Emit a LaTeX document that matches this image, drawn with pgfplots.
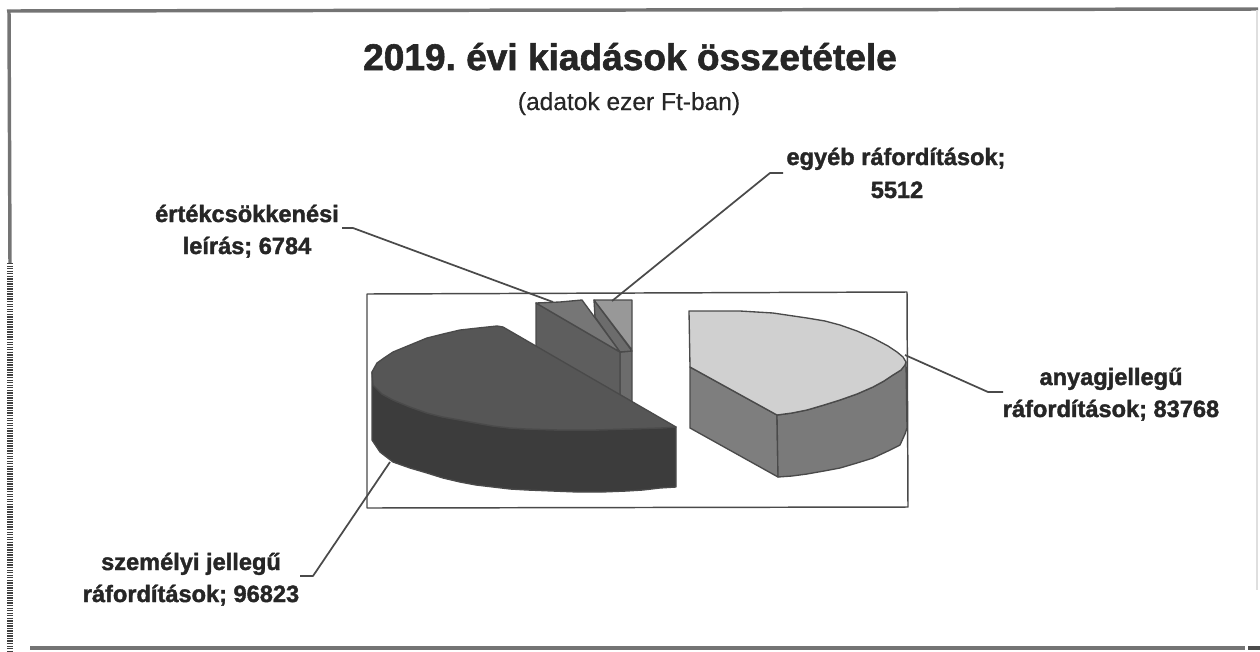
\documentclass[border=0pt]{standalone}
\usepackage{fontspec}
\setmainfont[BoldFeatures={FakeBold=1.6}]{Liberation Sans}
\frenchspacing
\usepackage{pgfplots}
\pgfplotsset{compat=1.18}

\definecolor{outl}{HTML}{4A4A4A}
\definecolor{framec}{HTML}{747474}
\definecolor{txt}{HTML}{262626}
\definecolor{egyebtop}{HTML}{989898}
\definecolor{egyebside}{HTML}{6C6C6C}
\definecolor{ertektop}{HTML}{767676}
\definecolor{ertekside}{HTML}{5E5E5E}
\definecolor{szemtop}{HTML}{565656}
\definecolor{szemside}{HTML}{3C3C3C}
\definecolor{anyagtop}{HTML}{D0D0D0}
\definecolor{anyagleft}{HTML}{7E7E7E}
\definecolor{anyagright}{HTML}{7A7A7A}

\pgfplotsset{
  face/.style={draw=outl, line width=1pt, line join=round, fill=#1, mark=none},
  lead/.style={draw=#1, line width=1.3pt, line join=round, mark=none},
}
\tikzset{
  lab/.style={anchor=base, text=txt, font=\fontsize{17.7}{20}\selectfont\bfseries, inner sep=0pt},
}

\begin{document}
\begin{tikzpicture}
\begin{axis}[
  scale only axis, width=945pt, height=488.25pt,
  xmin=0, xmax=1260, ymin=0, ymax=651, y dir=reverse,
  hide axis, clip=false,
]
% outer frame
\addplot[lead=framec, line width=2.6pt] coordinates {(7,11) (1258,9)};
\addplot[lead=framec, line width=2.6pt] coordinates {(9,10) (10,263)};
\addplot[lead=framec, line width=2.4pt] coordinates {(30,648) (1245,648)};
\addplot[lead=gray!25, line width=0.8pt] coordinates {(1257,10) (1257,590)};
\addplot[draw=black!75, line width=4pt, dash pattern=on 1pt off 0.9pt, mark=none] coordinates {(10,263) (10,651)};
\addplot[lead=black!70, line width=2.5pt] coordinates {(1248,648) (1260,648)};

% plot area box
\addplot[lead=outl, line width=1.1pt] coordinates {(367,294) (907,292) (908,507) (367,508)} --cycle;

% egyeb raforditasok
\addplot[face=egyebside] coordinates {(620,352) (632,351) (632,402) (620,395)} --cycle;
\addplot[face=egyebside] coordinates {(594,300) (595,317) (620,352) (632,351)} --cycle;
\addplot[face=egyebtop] coordinates {(594,300) (632,300) (632,350)} --cycle;

% ertekcsokkenesi leiras
\addplot[face=ertekside] coordinates {(536,303) (620,352) (620,397) (536,348)} --cycle;
\addplot[face=ertektop] coordinates {(536,303) (560,302) (582,300) (620,352)} --cycle;

% szemelyi jellegu raforditasok
\addplot[face=szemside] coordinates {
  (372,372) (373,385) (382,394) (393,400) (410,407) (427,413) (443,417) (460,420) (476,423)
  (493,426) (510,428) (527,429) (560,430) (593,430) (627,429) (660,428) (676,427)
  (676,487) (660,488) (643,490) (627,491) (602,492) (577,492) (552,491) (527,490) (510,489)
  (493,487) (476,485) (460,482) (443,478) (427,473) (410,468) (393,462) (380,452) (372,440)
} --cycle;
\addplot[face=szemtop] coordinates {
  (503,327) (497,326) (478,328) (460,330) (443,334) (427,338) (410,345) (393,352) (384,358)
  (377,363) (372,372) (373,385) (382,394) (393,400) (410,407) (427,413) (443,417) (460,420)
  (476,423) (493,426) (510,428) (527,429) (560,430) (593,430) (627,429) (660,428) (676,427)
} --cycle;

% anyagjellegu raforditasok
\addplot[face=anyagleft] coordinates {(690,367) (777,415) (778,477) (690,428)} --cycle;
\addplot[face=anyagright] coordinates {
  (777,415) (792,413) (807,410) (824,405) (840,400) (857,394) (873,387) (884,381) (893,375)
  (901,370) (906,362) (907,428) (905,434) (900,445) (888,451) (873,458) (857,463) (840,468)
  (824,471) (807,474) (792,476) (778,477)
} --cycle;
\addplot[face=anyagtop] coordinates {
  (689,311) (715,311) (740,311) (773,313) (807,318) (825,321) (840,325) (857,331) (873,338)
  (888,346) (897,352) (903,357) (906,362) (905,365) (901,370) (893,375) (884,381) (873,387)
  (857,394) (840,400) (824,405) (807,410) (792,413) (777,415) (690,367)
} --cycle;

% leader lines
\addplot[lead=outl] coordinates {(905,355) (988,392) (1003,392)};
\addplot[lead=outl] coordinates {(390,462) (313,576) (300,576)};
\addplot[lead=outl] coordinates {(553,302) (353,228) (342,228)};
\addplot[lead=outl] coordinates {(612,301) (770,173) (783,173)};

% texts
\node[anchor=base, text=txt, inner sep=0pt, font=\fontsize{27.8}{30}\selectfont\bfseries] at (axis cs:630,70) {2019. évi kiadások összetétele};
\node[anchor=base, text=txt, inner sep=0pt, font=\fontsize{18.4}{22}\selectfont\addfontfeature{FakeBold=0.5}] at (axis cs:629,110) {(adatok ezer Ft-ban)};
\node[lab] at (axis cs:247,222) {értékcsökkenési};
\node[lab] at (axis cs:247,254) {leírás; 6784};
\node[lab] at (axis cs:896,165) {egyéb ráfordítások;};
\node[lab] at (axis cs:897,198) {5512};
\node[lab] at (axis cs:1111,385) {anyagjellegű};
\node[lab] at (axis cs:1111,417) {ráfordítások; 83768};
\node[lab] at (axis cs:191,570) {személyi jellegű};
\node[lab] at (axis cs:191,602) {ráfordítások; 96823};
\end{axis}
\pgfresetboundingbox
\useasboundingbox (0,0) rectangle (945pt,488.25pt);
\end{tikzpicture}
\end{document}
